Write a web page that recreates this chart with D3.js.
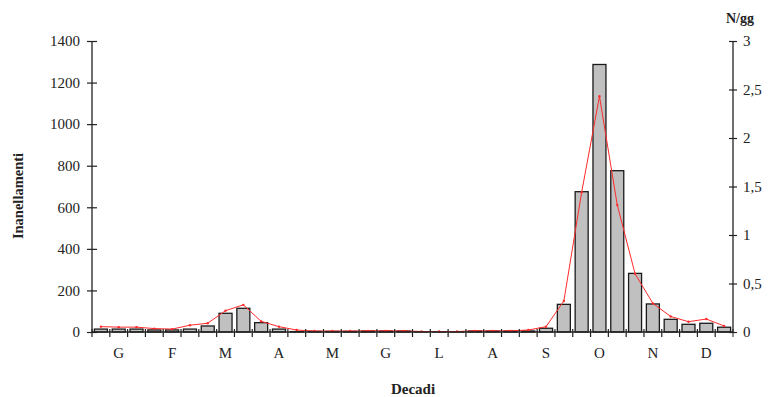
<!DOCTYPE html>
<html>
<head>
<meta charset="utf-8">
<script src="https://cdn.jsdelivr.net/npm/d3@7"></script>
<style>
  body { margin: 0; background: #fff; }
  text { font-family: 'Liberation Serif', 'DejaVu Serif', serif; fill: #222; }
</style>
</head>
<body>
<div id="chart"></div>
<script>
// months (3 decades each)
var months = ['G', 'F', 'M', 'A', 'M', 'G', 'L', 'A', 'S', 'O', 'N', 'D'];

// ringing totals per decade (left axis)
var ringed = [14, 14, 14, 10, 10, 14, 29, 90, 114, 45, 14, 2,
              3, 3, 3, 5, 5, 5, 1, 1, 1, 5, 5, 5,
              5, 18, 133, 675, 1287, 776, 282, 135, 61, 37, 42, 23];

// birds per day (right axis)
var perDay = [0.055, 0.05, 0.05, 0.035, 0.03, 0.07, 0.09, 0.22, 0.28, 0.11, 0.055, 0.02,
              0.01, 0.01, 0.01, 0.012, 0.012, 0.012, 0.005, 0.005, 0.005, 0.012, 0.012, 0.012,
              0.02, 0.055, 0.32, 1.44, 2.43, 1.31, 0.6, 0.295, 0.16, 0.106, 0.134, 0.062];

var leftTicks = [0, 200, 400, 600, 800, 1000, 1200, 1400];
var rightTicks = [0, 0.5, 1, 1.5, 2, 2.5, 3];

var W = 771, H = 397;
var margin = { top: 41, bottom: 65, left: 92, right: 38 },
    width = W - margin.left - margin.right,
    height = H - margin.top - margin.bottom;

var svg = d3.select('#chart').append('svg')
    .attr('width', W)
    .attr('height', H)
    .append('g')
    .attr('transform', 'translate(' + margin.left + ',' + margin.top + ')');

var decades = d3.range(ringed.length);

var x = d3.scaleBand().domain(decades).range([0, width]).paddingInner(0.27).paddingOuter(0.135);
var xBand = d3.scaleBand().domain(decades).range([0, width]);
var xMonth = d3.scaleBand().domain(d3.range(months.length)).range([0, width]);
var yL = d3.scaleLinear().domain([0, 1400]).range([height, 0]);
var yR = d3.scaleLinear().domain([0, 3]).range([height, 0]);

var axisColor = '#222';
var fs = '15px';

// bars
svg.selectAll('rect.bar')
    .data(ringed)
    .enter().append('rect')
    .attr('class', 'bar')
    .attr('x', function(d, i) { return x(i); })
    .attr('y', function(d) { return yL(d); })
    .attr('width', x.bandwidth())
    .attr('height', function(d) { return height - yL(d); })
    .attr('fill', '#c0c0c0')
    .attr('stroke', '#1a1a1a')
    .attr('stroke-width', 1.3);

// red line
var line = d3.line()
    .x(function(d, i) { return xBand(i) + xBand.bandwidth() / 2; })
    .y(function(d) { return yR(d); });

svg.append('path')
    .datum(perDay)
    .attr('fill', 'none')
    .attr('stroke', '#ff2a2a')
    .attr('stroke-width', 1)
    .attr('d', line);

svg.selectAll('circle.pt')
    .data(perDay)
    .enter().append('circle')
    .attr('class', 'pt')
    .attr('cx', function(d, i) { return xBand(i) + xBand.bandwidth() / 2; })
    .attr('cy', function(d) { return yR(d); })
    .attr('r', 1.2)
    .attr('fill', '#ff2a2a');

// left axis
var gL = svg.append('g')
    .call(d3.axisLeft(yL).tickValues(leftTicks).tickSize(5).tickPadding(7).tickFormat(d3.format('d')));
gL.selectAll('.tick line').attr('x2', 5).attr('x1', -5);
// right axis
var gR = svg.append('g')
    .attr('transform', 'translate(' + width + ',0)')
    .call(d3.axisRight(yR).tickValues(rightTicks).tickSize(4).tickPadding(6)
        .tickFormat(function(d) { return String(d).replace('.', ','); }));
gR.selectAll('.tick line').attr('x1', -4).attr('x2', 4);

// x axis (decade boundaries)
var gX = svg.append('g')
    .attr('transform', 'translate(0,' + height + ')')
    .call(d3.axisBottom(xBand).tickSize(5).tickFormat(''));
gX.selectAll('.tick line')
    .attr('transform', function() { return 'translate(' + (-xBand.bandwidth() / 2) + ',0)'; })
    .attr('y1', -3);
gX.append('line')
    .attr('x1', width).attr('x2', width).attr('y1', -3).attr('y2', 5)
    .attr('stroke', axisColor);

[gL, gR, gX].forEach(function(g) {
    g.select('.domain').attr('stroke', axisColor).attr('stroke-width', 1.3);
    g.selectAll('.tick line').attr('stroke', axisColor).attr('stroke-width', 1.2);
    g.selectAll('text').style('font-family', "'Liberation Serif', serif").style('font-size', fs).attr('fill', '#222');
});
gX.select('.domain').attr('d', 'M0,0H' + width);
gL.select('.domain').attr('d', 'M0,' + height + 'V0');
gR.select('.domain').attr('d', 'M0,' + height + 'V0');

// month labels
svg.selectAll('text.month')
    .data(months)
    .enter().append('text')
    .attr('class', 'month')
    .attr('x', function(d, i) { return xMonth(i) + xMonth.bandwidth() / 2; })
    .attr('y', height + 26)
    .attr('text-anchor', 'middle')
    .style('font-size', fs)
    .text(function(d) { return d; });

// axis titles
svg.append('text')
    .attr('transform', 'translate(' + (18 - margin.left) + ',' + (196 - margin.top) + ') rotate(-90)')
    .attr('text-anchor', 'middle')
    .attr('dy', '0.35em')
    .style('font-weight', 'bold')
    .style('font-size', '14.5px')
    .text('Inanellamenti');

svg.append('text')
    .attr('x', 413 - margin.left)
    .attr('y', 394 - margin.top)
    .attr('text-anchor', 'middle')
    .style('font-weight', 'bold')
    .style('font-size', '15px')
    .text('Decadi');

svg.append('text')
    .attr('x', 740 - margin.left)
    .attr('y', 23 - margin.top)
    .attr('text-anchor', 'middle')
    .style('font-weight', 'bold')
    .style('font-size', '14px')
    .text('N/gg');
</script>
</body>
</html>
